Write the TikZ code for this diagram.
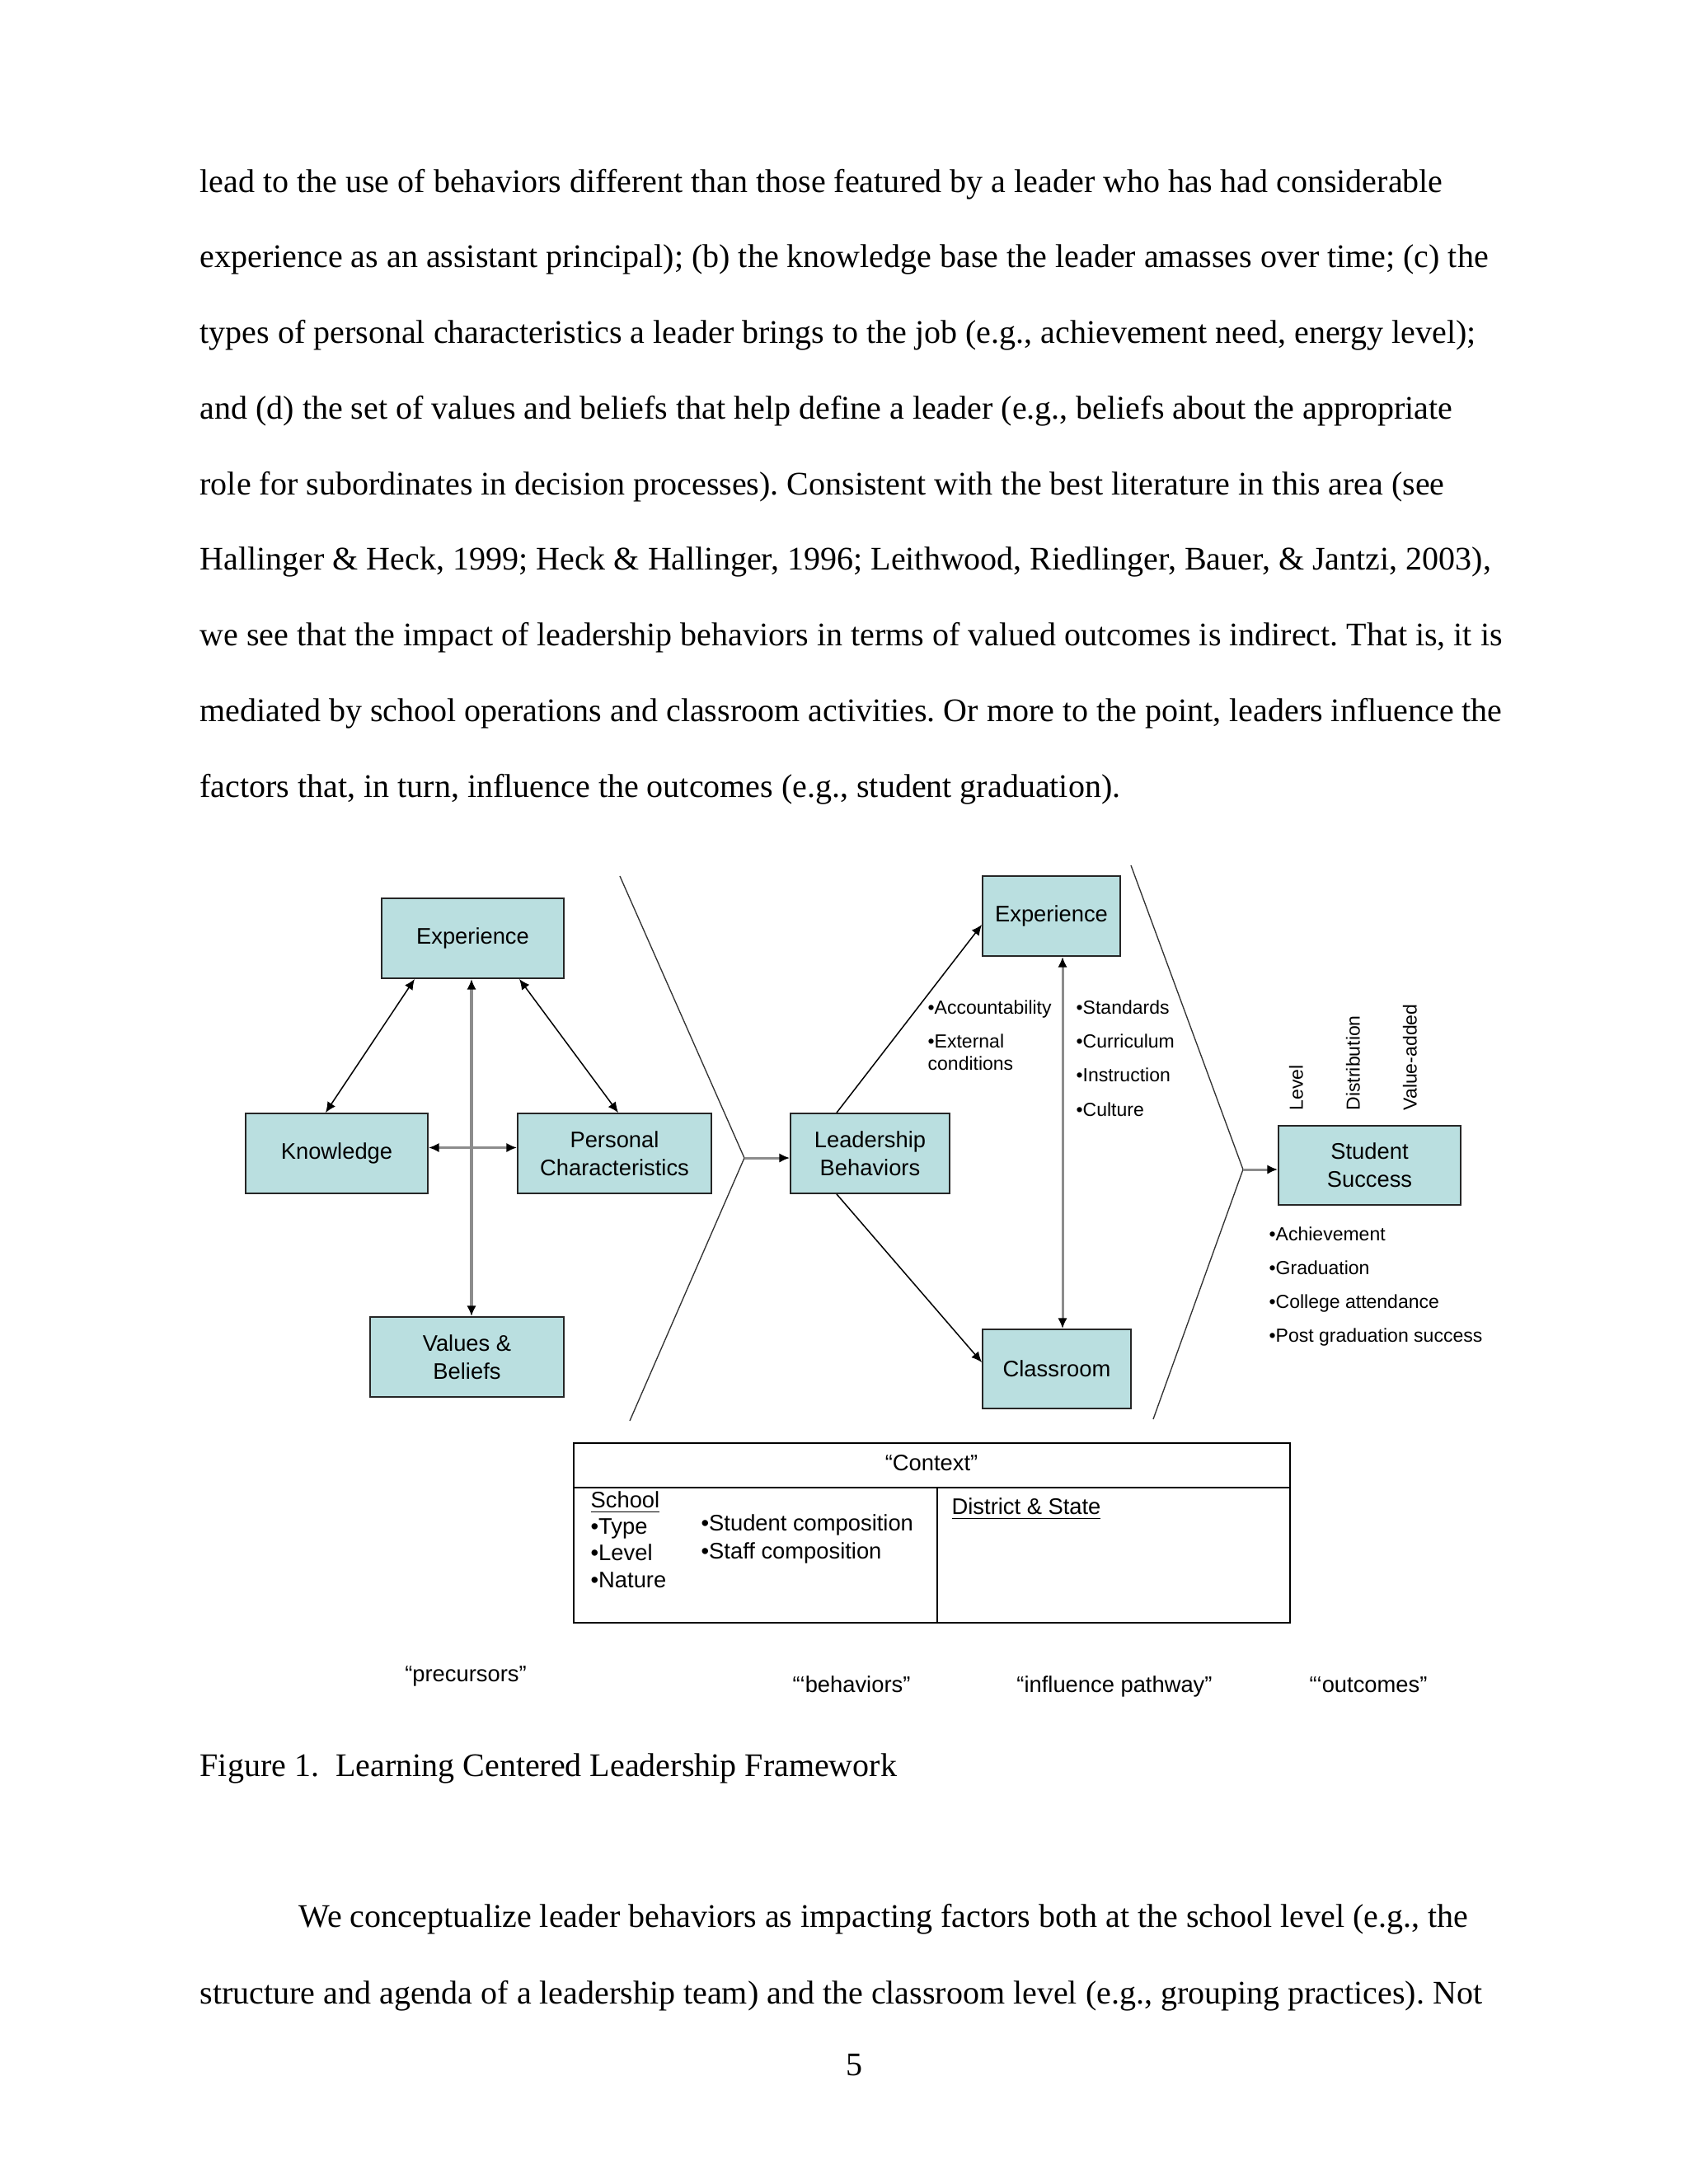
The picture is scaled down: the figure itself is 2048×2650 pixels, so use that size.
\documentclass[tikz,border=0pt]{standalone}
\usepackage{fontspec}
\setmainfont{Liberation Serif}
\newfontfamily\arialf{Liberation Sans}
\usetikzlibrary{arrows.meta,calc}
\definecolor{boxteal}{HTML}{BADFE0}
\newcommand\pxl{0.29883bp}
\frenchspacing
\begin{document}
\begin{tikzpicture}[x=0.29883bp,y=-0.29883bp,
  >={Latex[length=3.8bp,width=3.4bp,color=black]},
  body/.style={anchor=base west, inner sep=0pt, font=\fontsize{12}{14}\selectfont},
  tealbox/.style={draw=black!85, line width=0.55bp, fill=boxteal, align=center, inner sep=0pt, font=\arialf\fontsize{8.2}{10.2}\selectfont},
  sml/.style={anchor=mid west, inner sep=0pt, font=\arialf\fontsize{6.9}{8}\selectfont},
  rot/.style={anchor=mid west, inner sep=0pt, rotate=90, font=\arialf\fontsize{6.9}{8}\selectfont},
  ctxt/.style={anchor=mid west, inner sep=0pt, font=\arialf\fontsize{8.2}{9.6}\selectfont},
  blk/.style={line width=0.45bp, draw=black},
  gry/.style={line width=0.9bp, draw=black!45},
  chev/.style={line width=0.4bp, draw=black!80}]
\useasboundingbox[fill=white] (0,0) rectangle (2048,2650);

% body text above
\node[body] (l1) at (242,233) {lead to the use of behaviors different than those featured by a leader who has had considerable};
\node[body] (l2) at (242,324.75) {experience as an assistant principal); (b) the knowledge base the leader amasses over time; (c) the};
\node[body] (l3) at (242,416.5) {types of personal characteristics a leader brings to the job (e.g., achievement need, energy level);};
\node[body] (l4) at (242,508.25) {and (d) the set of values and beliefs that help define a leader (e.g., beliefs about the appropriate};
\node[body] (l5) at (242,600) {role for subordinates in decision processes). Consistent with the best literature in this area (see};
\node[body] (l6) at (242,691.75) {Hallinger \& Heck, 1999; Heck \& Hallinger, 1996; Leithwood, Riedlinger, Bauer, \& Jantzi, 2003),};
\node[body] (l7) at (242,783.5) {we see that the impact of leadership behaviors in terms of valued outcomes is indirect. That is, it is};
\node[body] (l8) at (242,875.25) {mediated by school operations and classroom activities. Or more to the point, leaders influence the};
\node[body] (l9) at (242,967) {factors that, in turn, influence the outcomes (e.g., student graduation).};

% precursors
\node[tealbox, minimum width=221*\pxl, minimum height=97*\pxl] (exp1) at (573.5,1138.5) {Experience};
\node[tealbox, minimum width=221*\pxl, minimum height=97*\pxl] (know) at (408.5,1399.5) {Knowledge};
\node[tealbox, minimum width=235*\pxl, minimum height=97*\pxl] (pers) at (745.5,1399.5) {Personal\\Characteristics};
\node[tealbox, minimum width=235*\pxl, minimum height=97*\pxl] (vals) at (566.5,1646.5) {Values \&\\Beliefs};

\draw[blk,<->] ($(know.north)+(-13.5,0)$) -- ($(exp1.south)+(-70.5,0)$);
\draw[blk,<->] ($(exp1.south)+(56.5,0)$) -- ($(pers.north)+(4.5,0)$);
\coordinate (v1) at ($(exp1.south)+(-1.5,0)$);
\draw[gry,<->] (v1) -- (v1 |- vals.north);
\draw[gry,<->] ($(know.east)+(0,-7)$) -- ($(pers.west)+(0,-7)$);

% chevron 1
\coordinate (c1a) at (752,1063);
\coordinate (c1) at (903,1405);
\coordinate (c1b) at (764,1724);
\draw[chev] (c1a) -- (c1) -- (c1b);

% behaviors and pathway
\node[tealbox, minimum width=193*\pxl, minimum height=97*\pxl] (lead) at (1055.5,1399.5) {Leadership\\Behaviors};
\node[tealbox, minimum width=167*\pxl, minimum height=97*\pxl] (exp2) at (1275.5,1111.5) {Experience};
\node[tealbox, minimum width=180*\pxl, minimum height=96*\pxl] (class) at (1282,1661) {Classroom};

\draw[gry,->] (c1) -- (c1 -| lead.west);
\draw[blk,->] ($(lead.north)+(-40.5,0)$) -- ($(exp2.west)+(0,10.5)$);
\draw[blk,->] ($(lead.south)+(-40.5,0)$) -- ($(class.west)+(0,-8)$);
\coordinate (v2) at ($(exp2.south)+(13.5,0)$);
\draw[gry,<->] (v2) -- (v2 |- class.north);

\node[sml] (acc) at (1125,1223) {•Accountability};
\node[sml] (ext) at (1125,1264) {•External};
\node[sml] (cond) at (1125,1291) {conditions};
\node[sml] (std) at (1305,1223) {•Standards};
\node[sml] (cur) at (1305,1264) {•Curriculum};
\node[sml] (ins) at (1305,1305) {•Instruction};
\node[sml] (cul) at (1305,1347) {•Culture};

% chevron 2
\coordinate (c2a) at (1372,1050);
\coordinate (c2) at (1508,1419);
\coordinate (c2b) at (1399,1722);
\draw[chev] (c2a) -- (c2) -- (c2b);

% outcomes
\node[tealbox, minimum width=221*\pxl, minimum height=96*\pxl] (succ) at (1661.5,1414) {Student\\Success};
\draw[gry,->] (c2) -- (c2 -| succ.west);

\node[rot] (lev) at (1573,1348) {Level};
\node[rot] (dist) at (1642,1348) {Distribution};
\node[rot] (vadd) at (1711,1348) {Value-added};

\node[sml] (ach) at (1539,1498) {•Achievement};
\node[sml] (grad) at (1539,1539) {•Graduation};
\node[sml] (coll) at (1539,1580) {•College attendance};
\node[sml] (post) at (1539,1621) {•Post graduation success};

% context table
\node[draw=black, line width=0.55bp, minimum width=869*\pxl, minimum height=218*\pxl, inner sep=0pt] (ctx) at (1130.5,1860) {};
\coordinate (hdl) at (696,1805);
\coordinate (hdr) at (1565,1805);
\coordinate (vdt) at (1137,1805);
\draw[line width=0.55bp] (hdl -| ctx.west) -- (hdr -| ctx.east);
\draw[line width=0.55bp] (vdt) -- (vdt |- ctx.south);

\node[ctxt, anchor=mid] (ctxl) at (1130,1777) {“Context”};
\node[ctxt] (sch) at (716,1822) {\underline{School}};
\node[ctxt] (typ) at (716,1854) {•Type};
\node[ctxt] (lvl) at (716,1886) {•Level};
\node[ctxt] (nat) at (716,1919) {•Nature};
\node[ctxt] (stu) at (850,1850) {•Student composition};
\node[ctxt] (stf) at (850,1884) {•Staff composition};
\node[ctxt] (dst) at (1154,1830) {\underline{District \& State}};

% stage labels
\node[ctxt, anchor=mid] (prec) at (565,2033) {“precursors”};
\node[ctxt, anchor=mid] (beh) at (1033,2046) {“‘behaviors”};
\node[ctxt, anchor=mid] (infl) at (1352,2046) {“influence pathway”};
\node[ctxt, anchor=mid] (outc) at (1660,2046) {“‘outcomes”};

% caption and following text
\node[body] (cap) at (242,2155) {Figure 1.\ \ Learning Centered Leadership Framework};
\node[body] (p1) at (362,2338) {We conceptualize leader behaviors as impacting factors both at the school level (e.g., the};
\node[body] (p2) at (242,2431) {structure and agenda of a leadership team) and the classroom level (e.g., grouping practices). Not};
\node[body, anchor=base] (pg) at (1036,2518) {5};
\end{tikzpicture}
\end{document}
